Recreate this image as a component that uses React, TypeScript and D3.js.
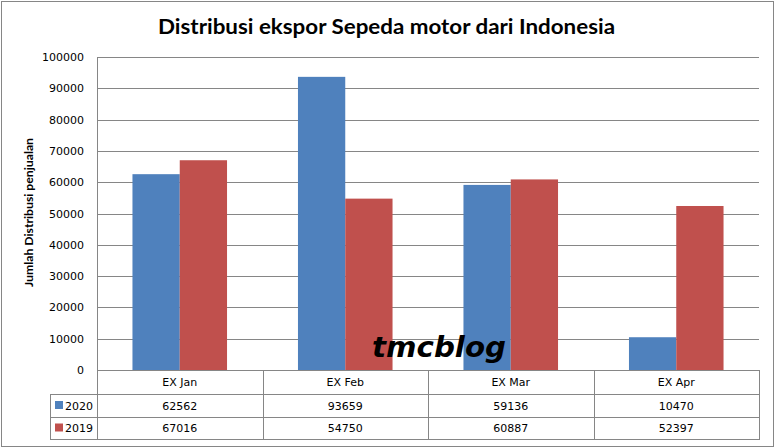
import React from "react";
import * as d3 from "d3";

const categories = ["EX Jan", "EX Feb", "EX Mar", "EX Apr"];
const seriesNames = ["2020", "2019"];
const values2020 = [62562, 93659, 59136, 10470];
const values2019 = [67016, 54750, 60887, 52397];
const yTicks = [0, 10000, 20000, 30000, 40000, 50000, 60000, 70000, 80000, 90000, 100000];
const colors = ["#4F81BD", "#C0504D"];
const title = "Distribusi ekspor Sepeda motor dari Indonesia";
const yLabel = "Jumlah Distribusi penjualan";
const watermark = "tmcblog";

const W = 776;
const H = 448;
const plot = { left: 97, right: 759, top: 57, bottom: 370 };
const rowH = [24, 23, 22];

export default function App() {
  const series = [values2020, values2019];
  const x0 = d3.scaleBand<string>().domain(categories).range([plot.left, plot.right]).padding(0);
  const x1 = d3
    .scaleBand<string>()
    .domain(seriesNames)
    .range([0, x0.bandwidth()])
    .paddingInner(0)
    .paddingOuter(0.75);
  const y = d3.scaleLinear().domain([0, 100000]).range([plot.bottom, plot.top]);
  const font = "'DejaVu Sans', Tahoma, sans-serif";
  const gridColor = "#868686";
  const r1 = plot.bottom + rowH[0];
  const r2 = r1 + rowH[1];
  const r3 = r2 + rowH[2];
  const legendLeft = 50;

  return (
    <svg
      width={W}
      height={H}
      style={{ position: "absolute", left: 0, top: 0, background: "#fff" }}
    >
      <rect x={0} y={0} width={W} height={H} fill="#fff" />
      <rect x={1.5} y={1.5} width={772} height={445} fill="#fff" stroke={gridColor} strokeWidth={1} />
      <text
        x={386.5}
        y={34}
        textAnchor="middle"
        fontFamily="Lato, 'Open Sans', sans-serif"
        fontWeight="bold"
        fontSize={20}
        textLength={457}
        lengthAdjust="spacingAndGlyphs"
        fill="#000"
      >
        {title}
      </text>

      {/* gridlines */}
      {yTicks.map((t) => (
        <line
          key={"g" + t}
          x1={plot.left}
          x2={plot.right}
          y1={Math.round(y(t)) + 0.5}
          y2={Math.round(y(t)) + 0.5}
          stroke={gridColor}
          strokeWidth={1}
        />
      ))}
      {yTicks.map((t) => (
        <text
          key={"t" + t}
          x={84}
          y={y(t) + 4}
          textAnchor="end"
          fontFamily={font}
          fontSize={11}
          fill="#000"
        >
          {t}
        </text>
      ))}
      <text
        transform={`translate(33,${212.5}) rotate(-90)`}
        textAnchor="middle"
        fontFamily="Lato, 'Open Sans', sans-serif"
        fontWeight="bold"
        fontSize={11}
        textLength={149}
        lengthAdjust="spacingAndGlyphs"
        fill="#000"
      >
        {yLabel}
      </text>

      {/* bars */}
      {categories.map((c, i) =>
        seriesNames.map((s, j) => {
          const v = series[j][i];
          const bx = (x0(c) ?? 0) + (x1(s) ?? 0);
          return (
            <rect
              key={c + s}
              x={bx}
              y={y(v)}
              width={x1.bandwidth()}
              height={y(0) - y(v)}
              fill={colors[j]}
            />
          );
        })
      )}

      {/* axis line */}
      <line x1={plot.left + 0.5} x2={plot.left + 0.5} y1={plot.top} y2={r3} stroke={gridColor} />
      <line x1={plot.right + 0.5} x2={plot.right + 0.5} y1={plot.bottom} y2={r3} stroke={gridColor} />

      {/* data table */}
      {[r1, r2, r3].map((ry) => (
        <line key={"r" + ry} x1={legendLeft} x2={plot.right + 1} y1={ry + 0.5} y2={ry + 0.5} stroke={gridColor} />
      ))}
      <line x1={legendLeft + 0.5} x2={legendLeft + 0.5} y1={r1} y2={r3 + 1} stroke={gridColor} />
      {categories.slice(1).map((c) => (
        <line
          key={"v" + c}
          x1={Math.round(x0(c) ?? 0) + 0.5}
          x2={Math.round(x0(c) ?? 0) + 0.5}
          y1={plot.bottom}
          y2={r3}
          stroke={gridColor}
        />
      ))}
      {categories.map((c) => (
        <text
          key={"c" + c}
          x={(x0(c) ?? 0) + x0.bandwidth() / 2}
          y={(plot.bottom + r1) / 2 + 4}
          textAnchor="middle"
          fontFamily={font}
          fontSize={11}
          fill="#000"
        >
          {c}
        </text>
      ))}
      {seriesNames.map((s, j) => {
        const top = j === 0 ? r1 : r2;
        const bot = j === 0 ? r2 : r3;
        const cy = (top + bot) / 2;
        return (
          <g key={"row" + s}>
            <rect x={55} y={cy - 4.5} width={8} height={8} fill={colors[j]} />
            <text x={65} y={cy + 4} fontFamily={font} fontSize={11} fill="#000">
              {s}
            </text>
            {categories.map((c, i) => (
              <text
                key={"val" + c}
                x={(x0(c) ?? 0) + x0.bandwidth() / 2}
                y={cy + 4}
                textAnchor="middle"
                fontFamily={font}
                fontSize={11}
                fill="#000"
              >
                {series[j][i]}
              </text>
            ))}
          </g>
        );
      })}

      {/* watermark */}
      <text
        x={372}
        y={357}
        fontFamily="'DejaVu Sans', sans-serif"
        fontWeight="bold"
        fontStyle="italic"
        fontSize={28}
        textLength={134}
        lengthAdjust="spacingAndGlyphs"
        fill="#000"
      >
        {watermark}
      </text>
    </svg>
  );
}
